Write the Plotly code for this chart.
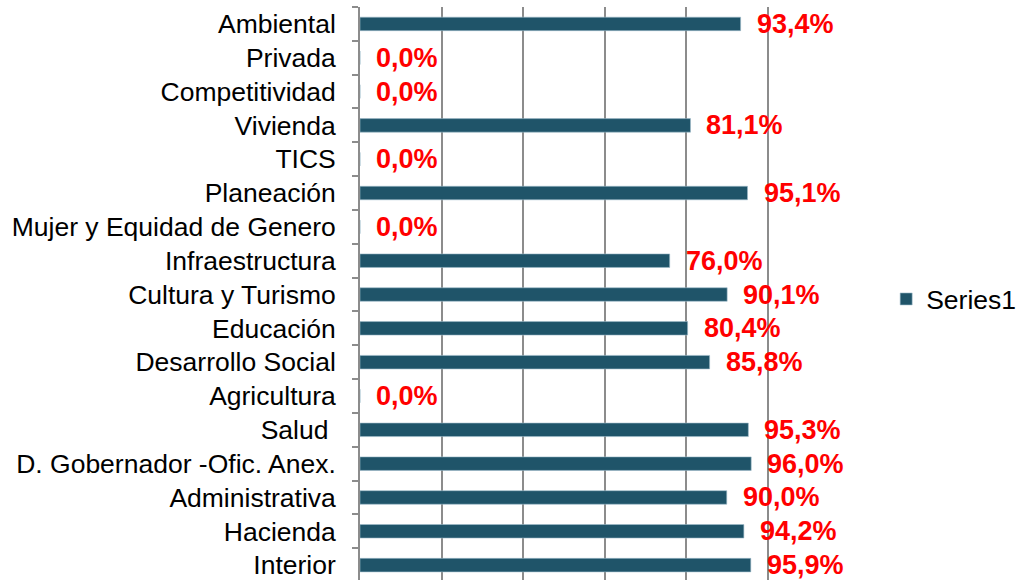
import plotly.graph_objects as go

categories = [
    "Interior", "Hacienda", "Administrativa", "D. Gobernador -Ofic. Anex.",
    "Salud\u00a0", "Agricultura", "Desarrollo Social", "Educación",
    "Cultura y Turismo", "Infraestructura", "Mujer y Equidad de Genero",
    "Planeación", "TICS", "Vivienda", "Competitividad", "Privada", "Ambiental",
]
values = [0.959, 0.942, 0.900, 0.960, 0.953, 0.0, 0.858, 0.804, 0.901, 0.760,
          0.0, 0.951, 0.0, 0.811, 0.0, 0.0, 0.934]
series_name = "Series1"

labels = [f"{v*100:.1f}".replace(".", ",") + "%" for v in values]

FONT = "Arial, 'Liberation Sans', sans-serif"
BAR = "#1F5469"
GRID = "#8c8c8c"

fig = go.Figure()
fig.add_trace(go.Bar(
    x=values, y=categories, orientation="h", name=series_name,
    marker=dict(color=BAR, line=dict(color="#9fbccb", width=0.6)),
    hoverinfo="x+y",
))

for v, c, t in zip(values, categories, labels):
    fig.add_annotation(
        x=v, y=c, text=t, showarrow=False, xanchor="left", yanchor="middle",
        xshift=14, font=dict(family=FONT, size=27, color="#FF0000", weight="bold"),
    )

fig.update_layout(
    width=1019, height=580,
    margin=dict(l=360, r=170, t=7, b=0, autoexpand=False),
    paper_bgcolor="white", plot_bgcolor="white",
    bargap=0.6,
    font=dict(family=FONT, size=26.5, color="#000000"),
    showlegend=True,
    legend=dict(x=1.076, xanchor="left", y=0.49, yanchor="middle",
                font=dict(family=FONT, size=26.5, color="#000000"),
                itemwidth=30, borderwidth=0,
                bgcolor="rgba(0,0,0,0)"),
    xaxis=dict(range=[0, 1.2], dtick=0.2, showticklabels=False,
               showgrid=True, gridcolor=GRID, gridwidth=1.8,
               zeroline=False, showline=False, ticks=""),
    yaxis=dict(type="category", categoryorder="array", categoryarray=categories,
               range=[-0.44, 16.5],
               showline=True, linecolor=GRID, linewidth=1.8,
               ticks="outside", tickson="boundaries", ticklen=6,
               tickcolor=GRID, tickwidth=1.5,
               showgrid=False, zeroline=False,
               ticklabelstandoff=17,
               tickfont=dict(family=FONT, size=26.5, color="#000000")),
)

fig.write_html("out.html",
               config={"displayModeBar": False},
               post_script="document.body.style.margin='0';document.body.style.overflow='hidden';")
